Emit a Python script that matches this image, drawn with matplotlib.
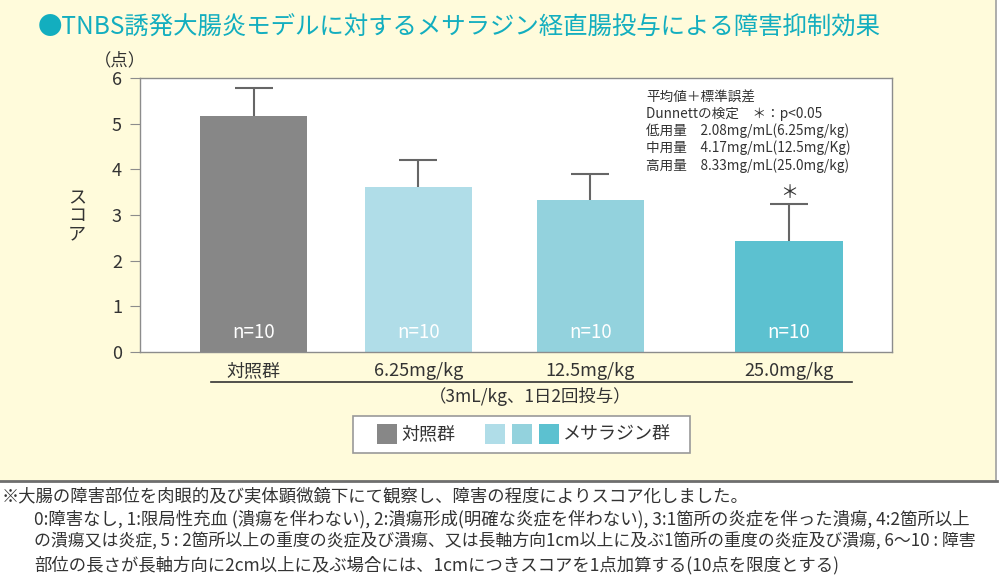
import matplotlib.pyplot as plt
from matplotlib.patches import Rectangle
from matplotlib.lines import Line2D

plt.rcParams['font.family'] = ['Noto Sans CJK JP', 'DejaVu Sans']

# データ
groups = ["対照群", "6.25mg/kg", "12.5mg/kg", "25.0mg/kg"]
scores = [5.16, 3.61, 3.33, 2.44]
sem = [0.63, 0.59, 0.57, 0.79]
n_labels = ["n=10", "n=10", "n=10", "n=10"]
significant = [False, False, False, True]
bar_colors = ["#878787", "#b0dde8", "#93d2dd", "#5cc1d0"]
yticks = [0, 1, 2, 3, 4, 5, 6]

notes = [
    "平均値＋標準誤差",
    "Dunnettの検定　＊：p<0.05",
    "低用量　2.08mg/mL(6.25mg/kg)",
    "中用量　4.17mg/mL(12.5mg/Kg)",
    "高用量　8.33mg/mL(25.0mg/kg)",
]
footnote = [
    "※大腸の障害部位を肉眼的及び実体顕微鏡下にて観察し、障害の程度によりスコア化しました。",
    "0:障害なし, 1:限局性充血 (潰瘍を伴わない), 2:潰瘍形成(明確な炎症を伴わない), 3:1箇所の炎症を伴った潰瘍, 4:2箇所以上",
    "の潰瘍又は炎症, 5 : 2箇所以上の重度の炎症及び潰瘍、又は長軸方向1cm以上に及ぶ1箇所の重度の炎症及び潰瘍, 6〜10 : 障害",
    "部位の長さが長軸方向に2cm以上に及ぶ場合には、1cmにつきスコアを1点加算する(10点を限度とする)",
]
footnote_sizes = [12.5, 12.5, 12.2, 12.5]

# 配置
xpos = [0, 0.97, 1.98, 3.15]
W, H = 1000, 576
text_col = "#333333"
spine_col = "#8c8c8c"

fig = plt.figure(figsize=(10, 5.76), dpi=100)
fig.patch.set_facecolor("white")


def fx(px):
    return px / W


def fy(py):
    return 1 - py / H


# 背景パネル
fig.add_artist(Rectangle((0, fy(481)), fx(996), 1 - fy(481), transform=fig.transFigure,
                         facecolor="#fffbdb", edgecolor="none", zorder=0))
fig.add_artist(Line2D([fx(996), fx(996)], [fy(481), 1], transform=fig.transFigure,
                      color="#a0a0a0", lw=1.2))
fig.add_artist(Line2D([0, fx(997)], [fy(481), fy(481)], transform=fig.transFigure,
                      color="#6e6e6e", lw=2))

fig.text(fx(38), fy(28), "●TNBS誘発大腸炎モデルに対するメサラジン経直腸投与による障害抑制効果",
         color="#13aebf", fontsize=17.6, va="center", ha="left")

ax = fig.add_axes([fx(140), fy(352), fx(892 - 140), (352 - 78) / H])
ax.set_facecolor("white")
bars = ax.bar(xpos, scores, width=0.63, color=bar_colors, zorder=2)
eb = ax.errorbar(xpos, scores, yerr=[[0] * len(sem), sem], fmt="none", ecolor="#666666",
                 elinewidth=1.5, capsize=14, capthick=1.5, zorder=1)
# 下側のキャップは描かない
eb.lines[1][0].set_visible(False)

for x, lab in zip(xpos, n_labels):
    ax.text(x, 0.42, lab, ha="center", va="center", color="white", fontsize=13.5, zorder=3)
for x, s, e, sig in zip(xpos, scores, sem, significant):
    if sig:
        ax.text(x, s + e + 0.05, "＊", ha="center", va="bottom", fontsize=13, color=text_col)

ax.set_ylim(0, 6)
ax.set_xlim(-0.668, 3.756)
ax.set_yticks(yticks)
ax.set_yticklabels([str(t) for t in yticks], fontsize=13, color=text_col)
ax.set_xticks(xpos)
ax.set_xticklabels(groups, fontsize=13, color=text_col)
ax.tick_params(axis="y", length=7, color=spine_col, pad=6)
ax.tick_params(axis="x", length=0, pad=7)
for sp in ax.spines.values():
    sp.set_color(spine_col)
    sp.set_linewidth(1)

fig.text(fx(646), fy(91), "\n".join(notes), ha="left", va="top", multialignment="left",
         fontsize=9.8, color=text_col, linespacing=1.2)

fig.text(fx(77), fy(216), "ス\nコ\nア", ha="center", va="center", fontsize=13,
         color=text_col, linespacing=1.0)
fig.text(fx(120), fy(60), "（点）", ha="center", va="center", fontsize=12.5, color=text_col)

# 投与量の注記
fig.add_artist(Line2D([fx(211), fx(852)], [fy(382), fy(382)], transform=fig.transFigure,
                      color="#333333", lw=1.2))
fig.text(fx(530), fy(396), "（3mL/kg、1日2回投与）", ha="center", va="center",
         fontsize=12.5, color=text_col)

# 凡例
fig.add_artist(Rectangle((fx(353), fy(453)), fx(690 - 353), (453 - 416) / H,
                         transform=fig.transFigure, facecolor="white",
                         edgecolor="#999999", lw=1.2))
sw_w, sw_h = fx(20), 20 / H
fig.add_artist(Rectangle((fx(377), fy(444)), sw_w, sw_h, transform=fig.transFigure,
                         facecolor=bar_colors[0], edgecolor="none"))
fig.text(fx(401), fy(434), "対照群", ha="left", va="center", fontsize=13, color=text_col)
for i, c in enumerate(bar_colors[1:]):
    fig.add_artist(Rectangle((fx(485 + 27 * i), fy(444)), sw_w, sw_h,
                             transform=fig.transFigure, facecolor=c, edgecolor="none"))
fig.text(fx(563), fy(434), "メサラジン群", ha="left", va="center", fontsize=13, color=text_col)

# 脚注
fig.text(fx(2), fy(496), footnote[0], ha="left", va="center", fontsize=footnote_sizes[0],
         color=text_col)
for i, line in enumerate(footnote[1:]):
    fig.text(fx(34), fy(519 + 23 * i), line, ha="left", va="center",
             fontsize=footnote_sizes[i + 1], color=text_col)

fig.savefig("out.png", dpi=100, facecolor=fig.get_facecolor())
